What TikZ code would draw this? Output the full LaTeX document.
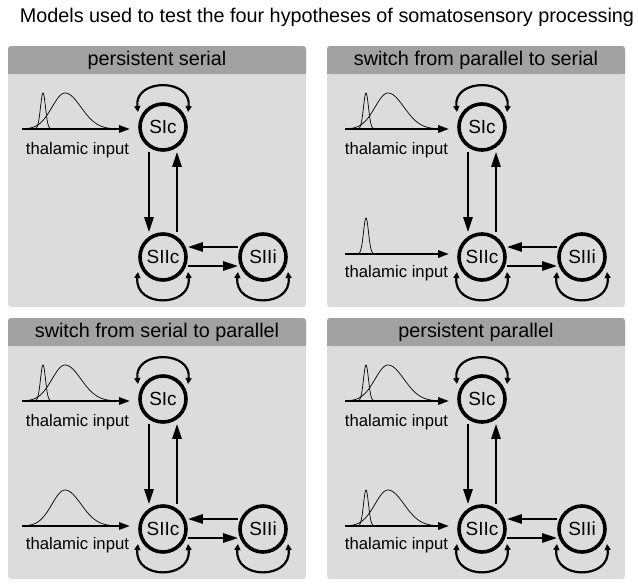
\documentclass[tikz,border=0pt]{standalone}
\usepackage{fontspec}
\setmainfont{Liberation Sans}
\usetikzlibrary{arrows.meta,calc}
\definecolor{hdr}{RGB}{162,162,162}
\definecolor{bod}{RGB}{220,220,220}
\tikzset{
  paneltitle/.style={font=\fontsize{19.8}{22}\selectfont, inner sep=0pt},
  area/.style={circle, draw, line width=3.6pt, minimum size=46pt, inner sep=0pt, font=\fontsize{19}{20}\selectfont},
  conn/.style={line width=2.6pt, -{Triangle[length=15pt,width=9pt]}},
  selfloop/.style={line width=2.2pt, {Triangle[length=6pt,width=6pt]}-{Triangle[length=6pt,width=6pt]}},
  inarrow/.style={line width=2.5pt, -{Triangle[length=11pt,width=7pt]}},
  inlabel/.style={font=\fontsize{16.7}{18}\selectfont, inner sep=0pt},
  dist/.style={line width=0.7pt},
}
% narrow distribution: #1 peak x, #2 baseline y
\newcommand\narrowdist[2]{%
  \draw[dist] plot[domain=-9:9, samples=41, smooth] ({\x+#1}, {#2-36*exp(-(\x*\x)/12.5)});}
% broad distribution: #1 peak x, #2 baseline y
\newcommand\broaddist[2]{%
  \draw[dist] plot[domain=-40:0, samples=41, smooth] ({\x+#1}, {#2-36*exp(-(\x*\x)/338)});
  \draw[dist] plot[domain=0:54, samples=55, smooth] ({\x+#1}, {#2-36*exp(-(\x*\x)/512)});}
% #1 name, #2 x, #3 y, #4 title, #5 shift of inputs, #6 second input (0 none, 1 narrow, 2 broad, 3 both)
\newcommand\drawpanel[6]{%
\begin{scope}[shift={(#2,#3)}]
  \fill[bod, rounded corners=3pt] (0,0) rectangle (298,261);
  \fill[hdr, rounded corners=3pt] (0,0) rectangle (298,28);
  \fill[hdr] (0,20) rectangle (298,28);
  \node[paneltitle] (#1t) at (149,14) {#4};
  \node[area] (#1a) at (155,81) {SIc};
  \node[area] (#1b) at (155,211) {SIIc};
  \node[area] (#1c) at (255,211) {SIIi};
  % first thalamic input
  \narrowdist{35+#5}{83}
  \broaddist{57+#5}{83}
  \coordinate (#1i1) at ({14+#5},83);
  \draw[inarrow, shorten >=8pt] (#1i1) -- (#1a.west |- #1i1);
  \node[inlabel] (#1l1) at (69.5,104) {thalamic input};
  \ifcase#6\relax
  \or
    \narrowdist{35+#5}{208}
  \or
    \broaddist{57+#5}{208}
  \or
    \narrowdist{35+#5}{208}
    \broaddist{57+#5}{208}
  \fi
  \ifnum#6>0\relax
    \coordinate (#1i2) at ({14+#5},208);
    \draw[inarrow, shorten >=8pt] (#1i2) -- (#1b.west |- #1i2);
    \node[inlabel] (#1l2) at (69.5,227) {thalamic input};
  \fi
  % connections
  \draw[conn] ([xshift=-14pt]#1a.south) -- ([xshift=-14pt]#1b.north);
  \draw[conn] ([xshift=14pt]#1b.north) -- ([xshift=14pt]#1a.south);
  \draw[conn] ([yshift=10pt]#1c.west) -- ([yshift=10pt]#1b.east);
  \draw[conn] ([yshift=-9pt]#1b.east) -- ([yshift=-9pt]#1c.west);
  % self loops
  \draw[selfloop] ($(#1a)+(-25,-15)$) .. controls ($(#1a)+(-29,-49)$) and ($(#1a)+(29,-49)$) .. ($(#1a)+(25,-15)$);
  \draw[selfloop] ($(#1b)+(-25,15)$) .. controls ($(#1b)+(-29,51)$) and ($(#1b)+(29,51)$) .. ($(#1b)+(25,15)$);
  \draw[selfloop] ($(#1c)+(-25,15)$) .. controls ($(#1c)+(-29,51)$) and ($(#1c)+(29,51)$) .. ($(#1c)+(25,15)$);
\end{scope}}
\begin{document}
\begin{tikzpicture}[x=1pt,y=-1pt]
  \useasboundingbox[fill=white] (0,0) rectangle (638,587);
  \node[font=\fontsize{19.8}{22}\selectfont, inner sep=0pt] (title) at (327,17) {Models used to test the four hypotheses of somatosensory processing};
  \drawpanel{p}{8}{46}{persistent serial}{0}{0}
  \drawpanel{q}{327}{46}{switch from parallel to serial}{4}{1}
  \drawpanel{r}{8}{318}{switch from serial to parallel}{0}{2}
  \drawpanel{s}{327}{318}{persistent parallel}{4}{3}
\end{tikzpicture}
\end{document}
